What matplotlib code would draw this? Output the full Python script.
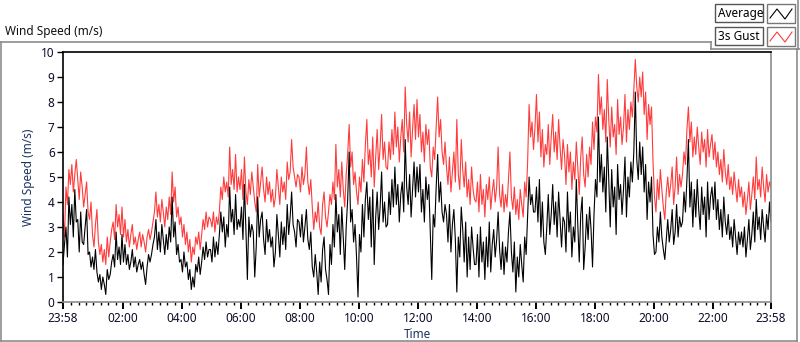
import matplotlib
matplotlib.use("Agg")
import matplotlib.pyplot as plt
from matplotlib.lines import Line2D
from matplotlib.patches import Rectangle
import numpy as np

# ---------------- data (3-minute samples) ----------------
avg_by_hour = [
    [1.5, 2.3, 3.0, 1.8, 4.2, 3.1, 3.9, 2.6, 4.5, 3.2, 3.3, 2.0, 3.6, 2.4, 2.3, 3.0, 3.7, 1.9, 2.0, 1.4],
    [1.8, 1.3, 2.1, 1.2, 0.8, 1.1, 0.5, 1.0, 0.7, 0.3, 1.3, 0.9, 1.1, 1.6, 1.9, 1.4, 2.8, 1.7, 2.2, 1.5],
    [2.7, 1.6, 2.3, 1.5, 1.9, 1.3, 1.6, 2.1, 1.4, 1.8, 1.2, 1.5, 1.7, 1.3, 1.6, 1.1, 0.7, 1.4, 1.9, 1.6],
    [1.9, 2.3, 2.6, 3.3, 2.1, 2.8, 2.0, 3.1, 2.5, 1.9, 2.7, 2.1, 3.0, 2.4, 4.2, 2.6, 3.2, 1.9, 2.3, 1.6],
    [1.7, 1.2, 2.0, 1.4, 1.6, 0.9, 1.3, 0.5, 1.0, 0.6, 1.5, 1.2, 1.8, 1.1, 1.6, 2.2, 1.7, 2.4, 1.8, 2.1],
    [2.1, 1.6, 2.6, 1.8, 2.4, 1.9, 2.7, 3.6, 2.8, 3.4, 2.2, 3.1, 2.6, 4.6, 3.2, 3.7, 2.7, 4.3, 2.9, 3.3],
    [3.0, 3.8, 2.5, 4.7, 2.9, 0.9, 3.4, 2.6, 3.1, 2.8, 1.0, 2.2, 4.2, 2.6, 3.3, 3.6, 2.5, 1.9, 3.3, 2.4],
    [2.9, 2.2, 2.6, 1.4, 2.0, 3.5, 2.7, 1.8, 3.2, 2.3, 3.0, 2.1, 3.9, 2.7, 3.4, 4.4, 3.1, 2.8, 2.2, 3.3],
    [3.2, 2.6, 3.5, 2.4, 3.0, 3.7, 2.5, 2.1, 2.8, 1.4, 1.0, 1.9, 1.2, 0.3, 1.6, 0.8, 2.1, 2.6, 1.3, 0.9],
    [0.3, 2.3, 1.5, 3.1, 2.2, 4.3, 2.8, 3.5, 1.9, 3.8, 2.6, 1.3, 3.0, 4.1, 6.0, 3.2, 3.7, 2.4, 3.1, 1.8],
    [0.2, 2.7, 2.0, 3.9, 2.6, 4.1, 4.8, 3.3, 4.2, 2.2, 4.5, 1.5, 3.4, 4.4, 2.9, 3.8, 5.2, 3.2, 4.0, 3.0],
    [3.1, 4.4, 3.5, 4.9, 3.8, 5.4, 3.9, 4.7, 3.2, 4.3, 4.8, 3.6, 6.5, 4.6, 3.9, 5.1, 3.4, 4.5, 5.6, 4.2],
    [5.4, 4.4, 5.5, 3.6, 4.5, 3.2, 5.0, 4.1, 4.7, 2.8, 0.9, 3.5, 3.0, 4.6, 5.9, 4.0, 4.8, 3.6, 3.2, 3.9],
    [3.5, 2.4, 3.9, 2.0, 3.1, 3.7, 2.5, 0.4, 2.6, 1.8, 3.8, 2.9, 1.6, 3.2, 1.0, 2.6, 1.3, 3.0, 2.2, 1.5],
    [1.5, 2.7, 1.0, 3.0, 1.6, 2.4, 0.9, 2.6, 1.4, 3.2, 1.2, 2.3, 2.9, 1.8, 2.5, 3.6, 2.1, 1.3, 2.4, 1.1],
    [2.2, 1.6, 2.8, 3.6, 2.0, 1.2, 2.4, 0.4, 1.8, 1.0, 2.3, 1.5, 0.8, 2.6, 1.9, 3.4, 5.0, 3.9, 4.3, 3.6],
    [3.6, 4.6, 3.2, 4.9, 2.6, 4.0, 2.4, 1.9, 3.0, 4.3, 2.7, 3.5, 4.7, 3.1, 4.0, 2.6, 4.4, 3.3, 2.2, 3.4],
    [3.2, 2.0, 4.4, 2.8, 3.6, 1.8, 3.0, 2.4, 4.9, 3.1, 1.6, 3.5, 4.2, 1.3, 2.2, 3.5, 2.5, 3.8, 2.9, 1.4],
    [3.5, 4.9, 4.2, 7.4, 4.8, 5.9, 4.4, 5.4, 3.6, 6.6, 4.9, 3.0, 5.3, 3.8, 4.6, 2.7, 5.5, 4.1, 4.7, 3.5],
    [4.5, 5.8, 3.4, 5.0, 4.2, 5.6, 4.8, 6.0, 8.4, 5.7, 4.9, 6.4, 5.1, 6.2, 4.4, 5.5, 3.3, 4.8, 4.0, 5.0],
    [2.7, 1.9, 2.0, 3.0, 2.4, 3.6, 2.6, 2.1, 1.7, 2.5, 3.3, 2.4, 2.9, 3.7, 2.3, 2.8, 3.9, 2.6, 3.4, 3.0],
    [3.2, 4.4, 3.6, 4.9, 6.5, 3.8, 4.8, 3.0, 4.5, 3.4, 4.9, 3.7, 2.9, 4.6, 3.5, 4.2, 2.6, 4.8, 3.3, 4.2],
    [4.6, 3.7, 4.8, 3.3, 4.1, 2.9, 3.7, 2.6, 4.2, 3.2, 2.7, 3.5, 2.5, 3.0, 2.2, 3.3, 2.6, 1.9, 2.8, 2.3],
    [2.8, 2.2, 3.0, 1.8, 2.5, 3.3, 2.1, 2.7, 3.6, 2.4, 4.1, 2.9, 3.4, 2.5, 3.7, 3.0, 2.4, 3.5, 2.9, 4.0],
    [3.2],
]
gust_by_hour = [
    [3.5, 2.6, 4.6, 3.9, 5.3, 4.7, 5.5, 4.4, 5.1, 5.7, 4.9, 4.1, 5.2, 4.6, 3.8, 4.3, 4.8, 3.6, 3.3, 4.0],
    [2.7, 2.2, 3.1, 3.7, 2.4, 1.9, 2.3, 1.6, 2.1, 1.5, 2.6, 1.8, 2.4, 2.9, 3.2, 2.5, 3.9, 3.0, 3.5, 2.7],
    [3.8, 2.6, 3.3, 2.4, 2.9, 2.2, 2.7, 3.1, 2.3, 2.6, 2.1, 2.5, 2.8, 2.2, 2.7, 2.4, 2.0, 2.6, 2.9, 2.5],
    [2.8, 3.2, 3.6, 4.4, 3.4, 3.9, 3.2, 4.1, 3.6, 3.0, 3.8, 3.3, 4.2, 3.5, 5.2, 4.0, 4.6, 3.4, 3.8, 3.1],
    [3.4, 2.6, 3.1, 2.3, 2.8, 2.0, 2.5, 1.6, 2.2, 1.9, 2.6, 2.3, 2.8, 2.1, 2.7, 3.3, 2.9, 3.6, 3.0, 3.4],
    [3.3, 3.0, 3.6, 2.8, 3.4, 3.1, 3.6, 4.6, 4.1, 5.0, 4.4, 4.8, 4.2, 6.2, 4.7, 5.3, 4.5, 5.9, 4.4, 5.0],
    [4.5, 5.3, 4.1, 5.8, 4.4, 3.9, 4.9, 4.3, 5.2, 4.6, 4.0, 3.6, 5.5, 4.2, 4.8, 5.4, 4.5, 4.0, 5.0, 4.3],
    [4.8, 4.0, 4.5, 3.8, 4.2, 5.3, 4.6, 3.9, 5.0, 4.4, 4.8, 4.1, 5.6, 4.9, 5.2, 6.5, 5.4, 5.0, 4.6, 5.1],
    [5.0, 4.4, 5.4, 4.7, 5.1, 6.2, 4.8, 4.3, 4.9, 3.8, 2.9, 3.6, 3.2, 4.0, 3.0, 2.7, 3.9, 4.4, 3.4, 3.0],
    [3.6, 4.3, 3.9, 4.8, 4.1, 6.3, 4.6, 5.3, 4.2, 5.6, 4.5, 3.8, 5.1, 5.9, 7.1, 5.4, 6.0, 4.7, 5.2, 4.4],
    [3.9, 5.0, 4.4, 5.7, 4.8, 6.3, 7.3, 5.5, 6.1, 5.0, 6.6, 4.6, 5.8, 6.9, 5.3, 6.2, 7.5, 5.7, 6.4, 5.4],
    [5.3, 6.4, 5.7, 6.9, 5.9, 7.6, 6.2, 7.0, 5.6, 6.6, 7.3, 6.0, 8.6, 7.1, 6.4, 7.6, 5.8, 6.9, 7.9, 6.5],
    [8.1, 6.6, 7.5, 6.0, 6.8, 5.6, 7.1, 6.3, 6.9, 5.4, 5.0, 6.2, 5.7, 7.0, 8.2, 6.6, 7.3, 6.0, 5.5, 6.4],
    [5.4, 4.7, 5.8, 4.4, 5.2, 6.0, 4.8, 7.3, 5.1, 4.5, 6.5, 5.3, 4.6, 5.6, 4.2, 4.9, 3.9, 5.4, 4.5, 4.1],
    [4.0, 4.8, 3.6, 5.1, 3.9, 4.5, 3.4, 4.7, 4.1, 5.0, 3.7, 4.4, 4.9, 4.0, 4.6, 6.2, 4.3, 3.8, 4.7, 3.6],
    [4.3, 3.8, 4.9, 6.0, 4.2, 3.7, 4.6, 3.5, 4.1, 3.3, 4.5, 3.9, 3.4, 4.8, 4.2, 5.6, 7.9, 6.6, 7.2, 6.1],
    [7.0, 8.3, 6.4, 7.6, 5.8, 6.9, 5.4, 6.3, 5.9, 7.1, 5.5, 6.6, 7.5, 6.0, 6.8, 5.7, 7.3, 6.2, 5.3, 6.5],
    [5.9, 4.7, 6.3, 5.2, 6.0, 4.5, 5.6, 4.9, 6.4, 5.4, 4.3, 5.8, 6.6, 5.1, 4.6, 5.9, 5.0, 6.2, 5.5, 7.2],
    [6.1, 7.4, 6.8, 9.1, 7.5, 8.2, 6.9, 7.7, 6.4, 8.9, 7.3, 6.2, 7.8, 6.6, 7.1, 5.9, 8.1, 6.7, 7.4, 6.3],
    [7.0, 8.3, 6.4, 7.7, 6.9, 8.0, 7.4, 8.5, 9.7, 8.6, 8.0, 9.0, 8.2, 9.2, 7.5, 8.4, 6.5, 7.9, 7.1, 7.8],
    [5.6, 4.2, 3.6, 4.9, 4.1, 5.3, 4.5, 3.8, 3.3, 4.4, 5.0, 4.2, 4.7, 5.4, 3.9, 4.6, 5.8, 4.3, 5.1, 4.6],
    [5.1, 6.0, 5.5, 6.9, 7.8, 6.4, 7.2, 5.8, 6.6, 5.9, 7.0, 6.2, 5.5, 6.8, 6.0, 6.5, 5.4, 6.9, 5.8, 6.3],
    [6.7, 5.7, 6.4, 5.4, 6.0, 5.1, 5.7, 4.8, 6.1, 5.2, 4.7, 5.5, 4.5, 5.0, 4.3, 5.2, 4.6, 4.0, 4.9, 4.2],
    [4.6, 3.8, 4.4, 3.5, 4.1, 4.8, 3.7, 4.3, 5.0, 4.1, 5.8, 4.5, 4.9, 4.2, 5.4, 4.6, 4.0, 5.1, 4.4, 4.8],
    [4.6],
]
sample_minutes = 3
x_tick_labels = ["23:58", "02:00", "04:00", "06:00", "08:00", "10:00", "12:00",
                 "14:00", "16:00", "18:00", "20:00", "22:00", "23:58"]
y_ticks = list(range(0, 11))

average = np.array([v for h in avg_by_hour for v in h])
gust = np.array([v for h in gust_by_hour for v in h])
t = np.arange(len(average)) * sample_minutes  # minutes after 23:58

# ---------------- figure ----------------
W, H = 800, 342
fig = plt.figure(figsize=(W / 100, H / 100), dpi=100)
fig.patch.set_facecolor("white")
plt.rcParams["font.family"] = ["Noto Sans", "DejaVu Sans"]

def fx(px):
    return px / W

def fy(py):
    return 1 - py / H

# outer panel frame
frame_c = "#8c8c8c"
for (x0, y0, x1, y1) in [(1, 42, 711, 42), (711, 42, 711, 49), (711, 49, 800, 49),
                         (1, 42, 1, 341), (1, 341, 797, 341), (797, 49, 797, 341),
                         (798, 0, 798, 49)]:
    fig.add_artist(Line2D([fx(x0), fx(x1)], [fy(y0), fy(y1)], color=frame_c, lw=1.2))

fig.text(fx(5), fy(32), "Wind Speed (m/s)", fontsize=8.5, va="center", ha="left",
         color="#111111")

# legend
for i, (lab, col) in enumerate([("Average", "black"), ("3s Gust", "#ff3c3c")]):
    top = 4 + i * 23
    fig.add_artist(Rectangle((fx(715), fy(top + 18)), fx(48), 18 / H,
                             transform=fig.transFigure, facecolor="white",
                             edgecolor="#555555", lw=1.0))
    fig.text(fx(718), fy(top + 9), lab, fontsize=8.5, va="center", ha="left",
             color="black")
    fig.add_artist(Rectangle((fx(767), fy(top + 19)), fx(28), 19 / H,
                             transform=fig.transFigure, facecolor="white",
                             edgecolor="#777777", lw=1.0))
    zx = [770, 777, 785, 792]
    zy = [top + 14, top + 5, top + 15, top + 5]
    fig.add_artist(Line2D([fx(a) for a in zx], [fy(b) for b in zy], color=col, lw=0.8))

# plot axes
ax = fig.add_axes([fx(63), fy(302), fx(771) - fx(63), fy(52) - fy(302)])
ax.plot(t, gust, color="#ff3c3c", lw=0.8)
ax.plot(t, average, color="black", lw=0.8)
ax.set_xlim(0, 1440)
ax.set_ylim(0, 10)

major = [0] + [122 + 120 * k for k in range(11)] + [1440]
ax.set_xticks(major)
ax.set_xticklabels(x_tick_labels)
ax.set_xticks([2 + 15 * k for k in range(1, 96)], minor=True)
ax.set_yticks(y_ticks)
ax.set_yticklabels([str(v) for v in y_ticks])

ax.tick_params(axis="both", which="major", direction="out", length=4, width=1,
               labelsize=8.5, labelcolor="#0c0c28", color="black", pad=2)
ax.tick_params(axis="x", which="minor", direction="out", length=2.5, width=1,
               color="black")
ax.tick_params(axis="x", which="major", length=5, width=1.4)

ax.spines["top"].set_color("black")
ax.spines["left"].set_color("black")
ax.spines["right"].set_color("#8c8c8c")
ax.spines["bottom"].set_color("#8c8c8c")
for s in ax.spines.values():
    s.set_linewidth(1.2)

ax.set_ylabel("Wind Speed (m/s)", fontsize=8.5, color="#1b3260", labelpad=4)
ax.set_xlabel("Time", fontsize=8.5, color="#1b3260", labelpad=2)

fig.savefig("out.png", dpi=100, facecolor="white")
